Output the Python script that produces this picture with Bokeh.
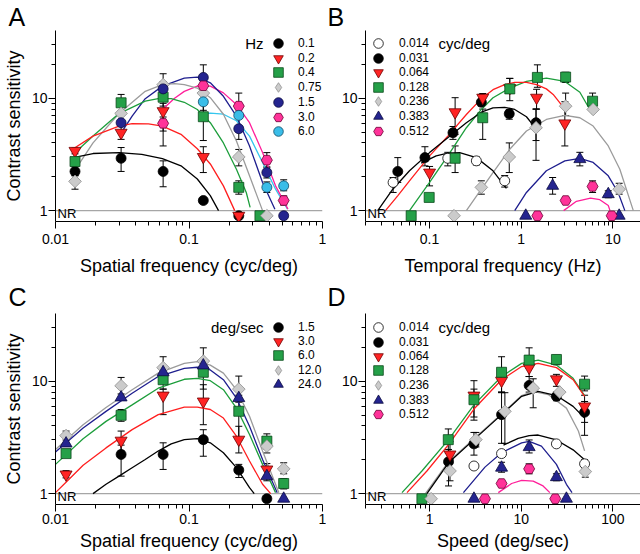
import math
from bokeh.plotting import figure
from bokeh.models import (Range1d, FixedTicker, Whisker, TeeHead, ColumnDataSource,
                          Span, Label, Legend, LegendItem)
from bokeh.layouts import gridplot
from bokeh.embed import file_html
from bokeh.resources import INLINE

FONT = "Liberation Sans"
NR_LEVEL = 0.9
Y_MIN, Y_MAX = 0.8, 40.0
Y_MAJOR = [1, 10]
Y_MAJOR_LABELS = ["1", "10"]

# ---------------- Panel A: sensitivity vs spatial frequency, per temporal frequency ----------------
A_labels = ["0.1", "0.2", "0.4", "0.75", "1.5", "3.0", "6.0"]
A_styles = ["blk", "red", "grn", "gry", "nvc", "pnk", "cyn"]
A_x = [
    [0.014, 0.031, 0.064, 0.128],
    [0.014, 0.031, 0.064, 0.128],
    [0.014, 0.031, 0.064, 0.128, 0.236],
    [0.014, 0.031, 0.064, 0.128, 0.236],
    [0.031, 0.064, 0.128, 0.236, 0.383],
    [0.064, 0.128, 0.236, 0.383, 0.512],
    [0.128, 0.236, 0.383, 0.512],
]
A_y = [
    [2.23, 2.92, 2.23, 1.23],
    [3.40, 4.93, 7.67, 3.00],
    [2.73, 9.10, 10.2, 6.84, 1.61],
    [1.82, 7.32, 13.2, 11.1, 3.00],
    [6.05, 12.1, 15.3, 5.35, 2.18],
    [5.97, 12.9, 8.50, 2.81, 1.23],
    [9.28, 7.03, 1.61, 1.66],
]
A_lo = [
    [2.05, 2.23, 1.63, None],
    [3.2, 4.3, 3.76, 2.18],
    [2.5, 7.67, 8.5, 4.2, 1.40],
    [1.55, None, 11.0, 9.5, 2.5],
    [None, 10.5, 13.0, 4.3, 1.95],
    [5.1, 11.0, 7.0, 2.45, 1.12],
    [7.8, 5.5, 1.45, 1.5],
]
A_hi = [
    [2.45, 3.64, 2.77, None],
    [3.6, 5.65, 9.0, 3.7],
    [2.95, 10.8, 12.0, 9.0, 1.84],
    [2.04, None, 16.5, 13.0, 3.5],
    [None, 14.0, 19.8, 6.6, 2.4],
    [6.8, 14.5, 11.1, 3.28, 1.35],
    [11.0, 8.5, 1.8, 1.88],
]
A_nr = [[0.236], [0.236], [0.34], [0.383], [0.512], [], []]
A_fit_x = [
    [0.0136, 0.0191, 0.0299, 0.0443, 0.0632, 0.0871, 0.1154, 0.1444, 0.1665],
    [0.0136, 0.0191, 0.0299, 0.0375, 0.0497, 0.0632, 0.0871, 0.1154, 0.1444, 0.181, 0.220],
    [0.0136, 0.0191, 0.0299, 0.047, 0.0588, 0.0736, 0.0922, 0.1154, 0.1444, 0.181, 0.2266, 0.2685, 0.287],
    [0.0136, 0.0191, 0.0299, 0.047, 0.0632, 0.078, 0.0922, 0.1154, 0.1444, 0.181, 0.2266, 0.284, 0.3556],
    [0.0305, 0.0375, 0.047, 0.0632, 0.0922, 0.1154, 0.1444, 0.181, 0.2266, 0.284, 0.3556, 0.44],
    [0.0632, 0.078, 0.0922, 0.1154, 0.1444, 0.181, 0.2266, 0.284, 0.3556, 0.445, 0.551],
    [0.1256, 0.1444, 0.181, 0.2266, 0.284, 0.3556, 0.445, 0.547],
]
A_fit_y = [
    [2.96, 3.22, 3.28, 3.17, 2.90, 2.50, 1.91, 1.36, 1.0],
    [3.55, 4.6, 5.65, 5.95, 5.9, 5.65, 4.77, 3.55, 2.6, 1.66, 1.0],
    [3.17, 4.6, 7.3, 9.4, 9.9, 9.9, 9.2, 7.94, 6.05, 4.0, 2.33, 1.45, 1.07],
    [2.18, 4.0, 7.3, 11.5, 13.2, 13.5, 13.2, 12.3, 10.1, 7.2, 4.16, 2.04, 1.0],
    [4.77, 6.93, 9.9, 12.8, 15.1, 15.4, 13.7, 10.4, 6.93, 3.76, 1.78, 1.03],
    [7.94, 10.0, 11.5, 12.8, 12.8, 11.15, 8.8, 6.05, 3.28, 1.66, 1.03],
    [7.3, 7.35, 7.2, 6.3, 4.6, 2.68, 1.55, 1.03],
]

# ---------------- Panel B: sensitivity vs temporal frequency, per spatial frequency ----------------
B_labels = ["0.014", "0.031", "0.064", "0.128", "0.236", "0.383", "0.512"]
B_styles = ["open", "blk", "red", "grn", "gry", "nvt", "pnk"]
B_x = [
    [0.040, 0.158, 0.324, 0.66],
    [0.045, 0.089, 0.18, 0.367, 0.74, 1.45],
    [0.10, 0.19, 0.38, 0.75, 1.47, 2.99],
    [0.099, 0.19, 0.38, 0.75, 1.5, 3.05, 6.0],
    [0.367, 0.74, 1.45, 3.05, 6.09, 11.7],
    [2.2, 4.36, 8.9],
    [3.05, 6.0],
]
B_y = [
    [1.78, 2.92, 2.77, 1.84],
    [2.23, 2.96, 4.93, 9.2, 7.26, 6.05],
    [2.18, 7.5, 10.1, 12.3, 10.1, 5.97],
    [1.31, 2.92, 6.7, 12.1, 15.3, 15.4, 9.4],
    [1.61, 3.0, 5.46, 8.49, 7.94, 1.55],
    [1.66, 2.87, 1.40],
    [1.23, 1.64],
]
B_lo = [
    [1.45, 2.5, 2.55, 1.62],
    [1.78, 2.5, 4.3, 8.5, 6.5, 4.2],
    [1.66, 4.77, 9.2, 11.0, 8.0, 3.76],
    [None, 2.18, 4.3, 9.5, 12.5, 13.8, 8.2],
    [1.4, 2.18, 2.8, 7.0, None, 1.4],
    [1.4, 2.5, 1.3],
    [None, 1.45],
]
B_hi = [
    [1.97, 3.3, 3.0, 2.05],
    [2.96, 3.7, 5.6, 10.8, 7.9, 8.0],
    [2.47, 10.1, 11.0, 15.0, 12.0, 9.3],
    [None, 3.76, 8.0, 15.0, 19.8, 17.0, 11.1],
    [1.84, 4.0, 8.0, 11.1, None, 1.75],
    [1.97, 3.3, 1.5],
    [None, 1.84],
]
B_nr = [[], [], [], [0.063], [0.185], [1.12, 11.7], [1.5, 9.7]]
B_fit_x = [
    [0.081, 0.118, 0.158, 0.213, 0.324, 0.492, 0.689],
    [0.0272, 0.0397, 0.0604, 0.1, 0.158, 0.252, 0.367, 0.492, 0.66, 0.849, 1.14, 1.47],
    [0.033, 0.0451, 0.0604, 0.1, 0.158, 0.252, 0.367, 0.492, 0.66, 0.849, 1.14, 1.47, 1.88, 2.23, 2.99],
    [0.0604, 0.1, 0.158, 0.252, 0.367, 0.492, 0.749, 1.14, 1.88, 2.99, 4.36, 6.0],
    [0.252, 0.367, 0.492, 0.749, 1.14, 1.88, 2.99, 4.36, 6.09, 8.9, 11.9, 16.7],
    [0.849, 1.14, 1.88, 2.99, 4.36, 6.09, 8.9, 11.4, 13.5],
    [2.9, 4.0, 5.7, 7.2, 8.9, 9.3],
]
B_fit_y = [
    [2.64, 3.07, 3.24, 3.28, 2.96, 2.26, 1.58],
    [1.0, 1.55, 2.26, 3.28, 4.45, 6.05, 7.5, 8.2, 8.3, 7.94, 6.84, 5.28],
    [1.0, 1.36, 1.84, 3.07, 4.6, 7.16, 9.9, 11.9, 13.2, 13.8, 13.8, 13.2, 12.1, 10.8, 8.0],
    [1.0, 1.78, 3.07, 5.46, 7.94, 10.1, 12.3, 14.1, 15.1, 14.1, 11.3, 7.2],
    [1.0, 1.55, 2.18, 3.51, 5.1, 6.47, 7.03, 6.7, 5.65, 3.76, 2.33, 1.0],
    [1.0, 1.45, 2.26, 2.77, 2.92, 2.68, 2.04, 1.45, 1.0],
    [1.0, 1.21, 1.29, 1.25, 1.11, 1.0],
]

# ---------------- Panel C: sensitivity vs spatial frequency, per speed ----------------
C_labels = ["1.5", "3.0", "6.0", "12.0", "24.0"]
C_styles = ["blk", "red", "grn", "gry", "nvt"]
C_x = [
    [0.031, 0.064, 0.128, 0.236],
    [0.012, 0.031, 0.064, 0.128, 0.236, 0.383],
    [0.012, 0.031, 0.064, 0.128, 0.236, 0.383, 0.512],
    [0.012, 0.031, 0.064, 0.128, 0.236, 0.383, 0.512],
    [0.012, 0.031, 0.064, 0.128, 0.236, 0.383],
]
C_y = [
    [2.23, 2.23, 3.02, 1.62],
    [1.48, 2.96, 7.45, 6.6, 3.02, 1.64],
    [2.27, 4.97, 10.3, 12.0, 5.4, 2.93, 1.23],
    [3.28, 9.1, 13.2, 15.1, 8.5, 2.64, 1.66],
    [2.79, 7.17, 12.0, 13.8, 7.07, 1.43],
]
C_lo = [
    [1.43, 1.64, 2.15, 1.39],
    [1.38, 2.4, 5.04, 4.1, 2.3, 1.45],
    [2.1, 4.4, 8.5, 8.5, 3.0, 2.5, 1.1],
    [3.0, 7.7, 11.5, 12.5, 6.5, 2.3, 1.5],
    [None, None, None, None, None, 1.3],
]
C_hi = [
    [2.7, 2.83, 3.7, 1.82],
    [1.6, 3.6, 8.5, 9.3, 3.97, 1.85],
    [2.45, 5.6, 12.5, 15.0, 7.5, 3.4, 1.36],
    [3.6, 10.8, 16.5, 19.8, 11.1, 3.0, 1.88],
    [None, None, None, None, None, 1.7],
]
C_nr = [[0.383], [], [], [], [0.512]]
C_fit_x = [
    [0.0191, 0.0239, 0.0299, 0.0375, 0.047, 0.0588, 0.0736, 0.0922, 0.1154, 0.1444, 0.181, 0.2266, 0.284, 0.308],
    [0.01, 0.0122, 0.0161, 0.0239, 0.0375, 0.0588, 0.0922, 0.1154, 0.1444, 0.181, 0.2266, 0.284, 0.3556, 0.409],
    [0.01, 0.0161, 0.0239, 0.0375, 0.0588, 0.0922, 0.1154, 0.1444, 0.181, 0.2266, 0.284, 0.3556, 0.445],
    [0.01, 0.0161, 0.0239, 0.0375, 0.0588, 0.0922, 0.1154, 0.1444, 0.181, 0.2266, 0.284, 0.3556, 0.471],
    [0.01, 0.0161, 0.0239, 0.0375, 0.0588, 0.0922, 0.1154, 0.1444, 0.181, 0.2266, 0.284, 0.3556, 0.458],
]
C_fit_y = [
    [1.0, 1.21, 1.43, 1.7, 2.01, 2.39, 2.77, 3.02, 3.09, 2.83, 2.31, 1.70, 1.13, 1.0],
    [1.02, 1.29, 1.79, 2.55, 3.71, 5.04, 5.89, 5.89, 5.6, 4.7, 3.24, 1.95, 1.21, 1.0],
    [1.82, 3.07, 4.39, 6.16, 8.66, 10.4, 10.6, 10.1, 8.4, 5.76, 3.35, 1.82, 1.02],
    [2.47, 4.1, 5.84, 8.4, 11.8, 14.4, 14.9, 13.9, 11.8, 8.4, 4.87, 2.39, 1.02],
    [2.35, 3.84, 5.39, 7.8, 11.0, 13.0, 13.3, 12.6, 10.3, 7.07, 3.97, 2.01, 1.02],
]

# ---------------- Panel D: sensitivity vs speed, per spatial frequency ----------------
D_labels = ["0.014", "0.031", "0.064", "0.128", "0.236", "0.383", "0.512"]
D_styles = ["open", "blk", "red", "grn", "gry", "nvt", "pnk"]
D_x = [
    [3.05, 6.1, 24.2, 49.1],
    [1.61, 3.05, 6.1, 12.2, 24.2, 49.1],
    [1.67, 3.05, 6.1, 12.2, 24.2, 49.1],
    [1.6, 3.05, 6.1, 12.2, 24.2, 49.1],
    [1.67, 3.2, 6.63, 13.5, 26.3, 50.0],
    [6.1, 12.2, 24.2],
    [6.1, 12.2],
]
D_y = [
    [1.76, 2.27, 2.77, 1.84],
    [1.92, 2.77, 5.04, 9.17, 7.33, 5.3],
    [2.23, 7.45, 10.1, 13.2, 10.4, 5.97],
    [3.02, 6.84, 12.0, 15.4, 15.6, 9.4],
    [1.59, 3.02, 5.39, 8.67, 8.0, 1.57],
    [1.70, 2.59, 1.40],
    [1.23, 1.66],
]
D_lo = [
    [None, None, None, 1.7],
    [1.17, 2.2, 2.8, 8.0, 6.7, 4.3],
    [1.6, 4.8, 8.0, 11.0, 9.0, 3.3],
    [2.3, 4.5, 8.0, 13.0, 14.0, 8.2],
    [1.3, 2.6, 2.8, 5.8, None, 1.4],
    [1.55, 2.3, 1.3],
    [None, 1.5],
]
D_hi = [
    [None, None, 2.9, 2.0],
    [2.47, 3.5, 7.9, 11.0, 8.0, 6.6],
    [2.9, 10.1, 12.0, 15.0, 11.5, 7.5],
    [3.76, 8.5, 16.5, 19.8, 17.0, 11.1],
    [2.0, 3.5, 7.9, 10.5, None, 1.8],
    [1.9, 3.0, 1.5],
    [None, 1.84],
]
D_nr = [[], [], [], [0.825], [1.04], [3.05, 31.1], [4.02, 23.5]]
D_fit_x = [
    [6.4, 9.27, 12.2, 15.3, 24.2, 36.8, 49.1],
    [0.935, 1.61, 3.05, 6.1, 10.1, 15.3, 24.2, 36.8, 49.1],
    [0.567, 0.935, 1.61, 3.05, 6.1, 10.1, 15.3, 24.2, 36.8, 49.1],
    [0.5, 0.825, 1.61, 3.05, 6.1, 10.1, 15.3, 24.2, 36.8, 49.1],
    [0.9, 1.61, 3.05, 6.1, 10.1, 13.5, 19.7, 31.1, 42.0, 49.1],
    [2.34, 4.02, 6.1, 10.1, 12.2, 16.6, 24.2, 31.1, 35.8],
    [5.62, 7.85, 10.1, 13.5, 17.3, 20.5],
]
D_fit_y = [
    [2.7, 3.1, 3.28, 3.32, 3.0, 2.45, 2.0],
    [1.0, 1.88, 3.02, 5.04, 7.33, 8.1, 7.45, 5.97, 4.71],
    [1.02, 1.59, 2.73, 5.65, 10.3, 13.5, 14.4, 13.2, 10.3, 7.33],
    [1.02, 1.59, 3.02, 6.16, 11.0, 14.4, 15.4, 13.9, 10.6, 7.45],
    [1.0, 1.92, 3.07, 5.11, 7.45, 8.1, 7.6, 5.76, 3.6, 2.4],
    [1.02, 1.72, 2.31, 2.83, 2.92, 2.64, 1.82, 1.21, 1.02],
    [1.02, 1.23, 1.31, 1.29, 1.17, 1.02],
]

# ---------------- styles ----------------
MARKERS = {
    "blk": dict(marker="circle", size=10, fill_color="black", line_color="black", angle=0),
    "open": dict(marker="circle", size=10, fill_color="white", line_color="black", angle=0),
    "red": dict(marker="inverted_triangle", size=12, fill_color="#ff2424", line_color="#700000", angle=0),
    "grn": dict(marker="square", size=10, fill_color="#25a048", line_color="#0b4a1c", angle=0),
    "gry": dict(marker="square", size=9, fill_color="#cbcbcb", line_color="#8f8f8f", angle=math.pi / 4),
    "nvc": dict(marker="circle", size=10, fill_color="#24248f", line_color="#0a0a40", angle=0),
    "nvt": dict(marker="triangle", size=12, fill_color="#24248f", line_color="#0a0a40", angle=0),
    "pnk": dict(marker="hex", size=11, fill_color="#ff3399", line_color="#6b0033", angle=0),
    "cyn": dict(marker="circle", size=10, fill_color="#3abde8", line_color="#0f4a66", angle=0),
}
LINE_COLORS = {"blk": "black", "open": "black", "red": "#ff1f1f", "grn": "#1d9e3c",
               "gry": "#9b9b9b", "nvc": "#1e1e8e", "nvt": "#1e1e8e", "pnk": "#ff1f9a",
               "cyn": "#35c6ee"}


def minors(majors, lo, hi):
    out = []
    d = majors[0] / 10.0
    while d < hi * 1.0001:
        for k in range(2, 10):
            v = round(d * k, 6)
            if lo <= v <= hi:
                out.append(v)
        d *= 10
    return out


def style_axis(ax):
    ax.axis_line_color = "black"
    ax.axis_line_width = 1
    ax.major_tick_out = 7
    ax.major_tick_in = 0
    ax.minor_tick_out = 4
    ax.minor_tick_in = 0
    ax.major_tick_line_color = "black"
    ax.minor_tick_line_color = "black"
    ax.major_label_text_font = FONT
    ax.major_label_text_font_size = "14px"
    ax.major_label_text_color = "black"
    ax.axis_label_text_font = FONT
    ax.axis_label_text_font_size = "18px"
    ax.axis_label_text_font_style = "normal"
    ax.axis_label_text_color = "black"


def panel(letter, letter_x, letter_stand, xr, xmaj, xmaj_labels, xlabel, ylabel, w, h,
          borders, xstand, labels, styles, xs, ys, los, his, nrs, fxs, fys,
          ltitle, ltitle_x, ltitle_align, glyph_cx, label_x, row_pitch):
    bl, br, bt, bb = borders
    p = figure(width=w, height=h, x_axis_type="log", y_axis_type="log",
               x_range=Range1d(*xr), y_range=Range1d(Y_MIN, Y_MAX),
               output_backend="svg", toolbar_location=None,
               min_border_left=bl, min_border_right=br, min_border_top=bt, min_border_bottom=bb)
    p.outline_line_color = None
    p.xgrid.visible = False
    p.ygrid.visible = False
    p.background_fill_color = "white"

    # panel letter as the figure title
    p.title.text = letter
    p.title.align = "left"
    p.title.offset = letter_x
    p.title.standoff = letter_stand
    p.title.text_font = FONT
    p.title.text_font_size = "25px"
    p.title.text_font_style = "normal"
    p.title.text_color = "black"

    p.xaxis.ticker = FixedTicker(ticks=xmaj, minor_ticks=minors(xmaj, xr[0], xr[1]))
    p.xaxis.major_label_overrides = {m: t for m, t in zip(xmaj, xmaj_labels)}
    p.xaxis.axis_label = xlabel
    p.xaxis.major_label_standoff = xstand[0]
    p.xaxis.axis_label_standoff = xstand[1]
    p.yaxis.ticker = FixedTicker(ticks=Y_MAJOR, minor_ticks=minors(Y_MAJOR, 1.0, 30.0))
    p.yaxis.major_label_overrides = {m: t for m, t in zip(Y_MAJOR, Y_MAJOR_LABELS)}
    p.yaxis.axis_label = ylabel
    p.yaxis.major_label_standoff = 1
    p.yaxis.axis_label_standoff = 5
    style_axis(p.xaxis[0])
    style_axis(p.yaxis[0])

    p.add_layout(Span(location=1, dimension="width", line_color="#a6a6a6",
                      line_width=1.2, level="underlay"))

    # fitted curves
    for k in reversed(range(len(labels))):
        p.line(fxs[k], fys[k], line_color=LINE_COLORS[styles[k]], line_width=1.3)

    # error bars
    for k in range(len(labels)):
        bx = [x for x, lo in zip(xs[k], los[k]) if lo is not None]
        blo = [lo for lo in los[k] if lo is not None]
        bhi = [hi for hi, lo in zip(his[k], los[k]) if lo is not None]
        if bx:
            src = ColumnDataSource(dict(base=bx, lower=blo, upper=bhi))
            p.add_layout(Whisker(source=src, base="base", lower="lower", upper="upper",
                                 dimension="height", line_color="black", line_width=1,
                                 upper_head=TeeHead(size=7, line_color="black", line_width=1),
                                 lower_head=TeeHead(size=7, line_color="black", line_width=1),
                                 level="underlay"))

    # data points (+ NR points), one single-row legend per series
    frame_h = h - bt - bb
    glyph = 24
    half = glyph // 2
    for k in range(len(labels)):
        m = MARKERS[styles[k]]
        px = list(xs[k]) + list(nrs[k])
        py = list(ys[k]) + [NR_LEVEL] * len(nrs[k])
        r = p.scatter(px, py, marker=m["marker"], size=m["size"], angle=m["angle"],
                      fill_color=m["fill_color"], line_color=m["line_color"], line_width=0.8)
        leg_r = r
        if styles[k] == "gry":
            # legend swatch: an unrotated diamond (legend glyphs ignore angle)
            leg_r = p.scatter(px[:1], py[:1], marker="diamond", size=14,
                              fill_color=m["fill_color"], line_color=m["line_color"],
                              line_width=0.8, visible=False)
        row_center = 14 + k * row_pitch
        leg = Legend(items=[LegendItem(label=labels[k], renderers=[leg_r])],
                     location=(int(glyph_cx - half), int(round(frame_h - row_center - half))),
                     orientation="vertical", glyph_width=glyph, glyph_height=glyph,
                     label_height=glyph, label_standoff=int(label_x - glyph_cx - half),
                     spacing=0, padding=0, margin=0,
                     border_line_alpha=0, background_fill_alpha=0, inactive_fill_alpha=0,
                     label_text_font=FONT, label_text_font_size="12px",
                     label_text_color="black")
        p.add_layout(leg)

    p.add_layout(Label(x=ltitle_x, y=frame_h - 14, x_units="screen", y_units="screen",
                       text=ltitle, text_align=ltitle_align, text_baseline="middle",
                       text_font=FONT, text_font_size="15px", text_color="black"))
    p.add_layout(Label(x=2, y=1, x_units="screen", y_units="screen", text="NR",
                       text_baseline="bottom", text_font=FONT, text_font_size="13px",
                       text_color="black"))
    return p


W1, W2 = 326, 314
H1, H2 = 278, 276
pa = panel("A", -47, 0, (0.01, 1.0), [0.01, 0.1, 1], ["0.01", "0.1", "1"],
           "Spatial frequency (cyc/deg)", "Contrast sensitivity", W1, H1, (50, 4, 29, 57), (5, 9),
           A_labels, A_styles, A_x, A_y, A_lo, A_hi, A_nr, A_fit_x, A_fit_y,
           "Hz", 208, "right", 223, 243, 14.7)
pb = panel("B", -38, 0, (0.02, 20.0), [0.1, 1, 10], ["0.1", "1", "10"],
           "Temporal frequency (Hz)", None, W2, H1, (39, 0, 29, 57), (5, 9),
           B_labels, B_styles, B_x, B_y, B_lo, B_hi, B_nr, B_fit_x, B_fit_y,
           "cyc/deg", 73, "left", 13, 34, 14.6)
pc = panel("C", -47, 5, (0.01, 1.0), [0.01, 0.1, 1], ["0.01", "0.1", "1"],
           "Spatial frequency (cyc/deg)", "Contrast sensitivity", W1, H2, (50, 4, 35, 50), (2, 4),
           C_labels, C_styles, C_x, C_y, C_lo, C_hi, C_nr, C_fit_x, C_fit_y,
           "deg/sec", 208, "right", 223, 243, 14.2)
pd = panel("D", -38, 5, (0.2, 200.0), [1, 10, 100], ["1", "10", "100"],
           "Speed (deg/sec)", None, W2, H2, (39, 0, 35, 50), (2, 4),
           D_labels, D_styles, D_x, D_y, D_lo, D_hi, D_nr, D_fit_x, D_fit_y,
           "cyc/deg", 73, "left", 13, 34, 14.5)

grid = gridplot([[pa, pb], [pc, pd]], toolbar_location=None)

with open("out.html", "w") as f:
    f.write(file_html(grid, INLINE))
